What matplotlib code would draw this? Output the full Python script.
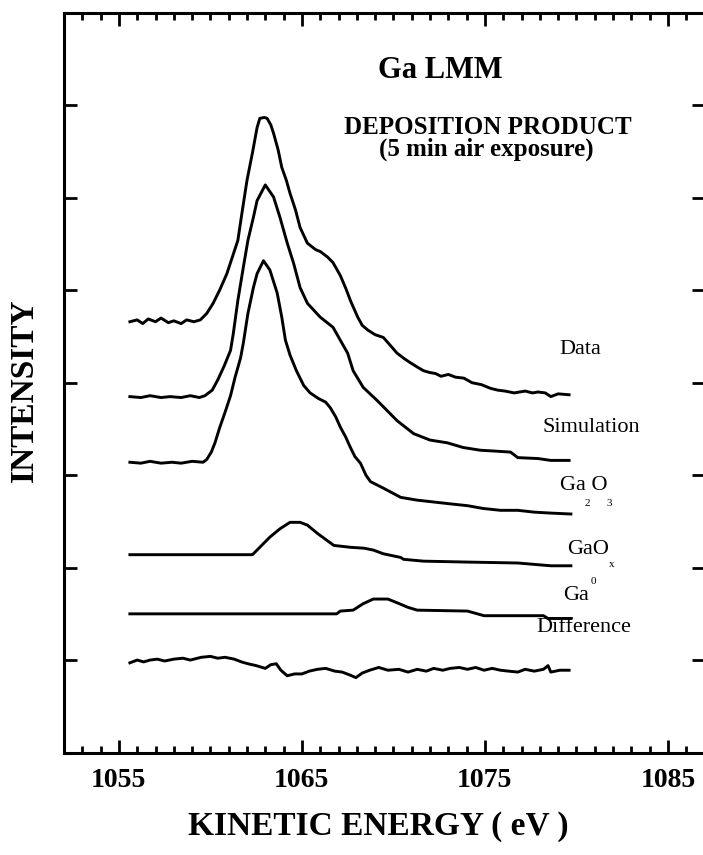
import numpy as np
import matplotlib
matplotlib.use("Agg")
import matplotlib.pyplot as plt
from matplotlib.ticker import MultipleLocator

plt.rcParams['font.family'] = ['Liberation Serif', 'DejaVu Serif']

# spectra: (kinetic energy eV, offset intensity)
data_pts = [(1055.6, 4.66), (1056.0, 4.68), (1056.3, 4.64), (1056.6, 4.69), (1057.0, 4.66),
            (1057.3, 4.70), (1057.7, 4.65), (1058.0, 4.67), (1058.4, 4.64), (1058.7, 4.68),
            (1059.1, 4.66), (1059.45, 4.68), (1059.8, 4.75), (1060.15, 4.86), (1060.5, 5.00),
            (1060.9, 5.18), (1061.2, 5.36), (1061.5, 5.54), (1061.75, 5.87), (1062.0, 6.19),
            (1062.3, 6.49), (1062.55, 6.76), (1062.7, 6.86), (1062.95, 6.87), (1063.1, 6.86),
            (1063.3, 6.79), (1063.45, 6.70), (1063.7, 6.52), (1063.9, 6.33), (1064.15, 6.19),
            (1064.35, 6.05), (1064.65, 5.87), (1064.9, 5.68), (1065.3, 5.51), (1065.75, 5.44),
            (1066.0, 5.42), (1066.4, 5.36), (1066.7, 5.30), (1067.1, 5.16), (1067.4, 5.02),
            (1067.65, 4.89), (1068.05, 4.71), (1068.3, 4.62), (1068.6, 4.57), (1069.0, 4.52),
            (1069.45, 4.49), (1069.85, 4.40), (1070.2, 4.32), (1070.6, 4.26), (1070.9, 4.22),
            (1071.3, 4.17), (1071.65, 4.13), (1072.0, 4.11), (1072.3, 4.10), (1072.6, 4.07),
            (1073.0, 4.09), (1073.4, 4.06), (1073.85, 4.05), (1074.3, 4.00), (1074.8, 3.98),
            (1075.3, 3.94), (1075.7, 3.92), (1076.1, 3.91), (1076.6, 3.89), (1077.2, 3.91),
            (1077.6, 3.89), (1077.9, 3.90), (1078.3, 3.89), (1078.6, 3.85), (1079.0, 3.88),
            (1079.6, 3.87)]

sim_pts = [(1055.6, 3.85), (1056.2, 3.84), (1056.7, 3.86), (1057.3, 3.84), (1057.8, 3.85),
           (1058.4, 3.84), (1058.9, 3.86), (1059.4, 3.84), (1059.7, 3.86), (1060.1, 3.92),
           (1060.4, 4.03), (1060.75, 4.18), (1061.1, 4.35), (1061.25, 4.53), (1061.5, 4.89),
           (1061.8, 5.25), (1062.05, 5.54), (1062.35, 5.79), (1062.55, 5.97), (1063.0, 6.14),
           (1063.45, 6.01), (1063.8, 5.79), (1064.2, 5.51), (1064.55, 5.29), (1064.9, 5.03),
           (1065.3, 4.86), (1066.0, 4.71), (1066.7, 4.60), (1067.1, 4.46), (1067.5, 4.32),
           (1067.8, 4.13), (1068.35, 3.95), (1069.1, 3.81), (1070.2, 3.59), (1071.1, 3.45),
           (1072.0, 3.38), (1072.95, 3.35), (1073.8, 3.30), (1074.75, 3.27), (1075.6, 3.26),
           (1076.4, 3.25), (1076.8, 3.19), (1077.9, 3.18), (1078.6, 3.16), (1079.6, 3.16)]

ga2o3_pts = [(1055.6, 3.14), (1056.2, 3.13), (1056.7, 3.15), (1057.3, 3.13), (1057.9, 3.14),
             (1058.4, 3.13), (1059.0, 3.15), (1059.6, 3.14), (1059.8, 3.17), (1060.05, 3.25),
             (1060.25, 3.35), (1060.5, 3.51), (1060.8, 3.68), (1061.1, 3.86), (1061.35, 4.06),
             (1061.65, 4.27), (1061.8, 4.43), (1062.05, 4.75), (1062.35, 5.03), (1062.55, 5.18),
             (1062.9, 5.32), (1063.25, 5.22), (1063.65, 4.97), (1063.9, 4.71), (1064.1, 4.46),
             (1064.35, 4.30), (1064.7, 4.13), (1065.1, 3.97), (1065.45, 3.89), (1065.9, 3.83),
             (1066.3, 3.79), (1066.55, 3.73), (1066.85, 3.63), (1067.1, 3.52), (1067.4, 3.41),
             (1067.65, 3.30), (1067.9, 3.20), (1068.2, 3.13), (1068.5, 3.00), (1068.75, 2.93),
             (1069.45, 2.86), (1070.4, 2.76), (1071.3, 2.73), (1072.2, 2.71), (1073.1, 2.69),
             (1074.05, 2.67), (1074.9, 2.64), (1075.85, 2.62), (1076.8, 2.62), (1077.7, 2.60),
             (1078.6, 2.59), (1079.7, 2.58)]

gaox_pts = [(1055.6, 2.14), (1058.0, 2.14), (1060.0, 2.14), (1061.6, 2.14), (1062.3, 2.14),
            (1062.7, 2.22), (1063.25, 2.33), (1063.8, 2.42), (1064.35, 2.49), (1064.9, 2.49),
            (1065.3, 2.46), (1065.85, 2.37), (1066.4, 2.29), (1066.75, 2.24), (1067.65, 2.22),
            (1068.4, 2.21), (1068.9, 2.19), (1069.45, 2.15), (1070.4, 2.11), (1070.55, 2.09),
            (1071.65, 2.07), (1074.05, 2.06), (1076.8, 2.05), (1078.6, 2.02), (1079.7, 2.02)]

ga0_pts = [(1055.6, 1.50), (1060.0, 1.50), (1066.0, 1.50), (1066.9, 1.50), (1067.1, 1.53),
           (1067.8, 1.54), (1068.35, 1.61), (1068.9, 1.66), (1069.7, 1.66), (1070.2, 1.62),
           (1070.8, 1.57), (1071.3, 1.54), (1074.05, 1.53), (1074.95, 1.48), (1078.2, 1.48),
           (1078.45, 1.45), (1079.7, 1.45)]

diff_pts = [(1055.6, 0.97), (1056.0, 1.00), (1056.35, 0.98), (1056.7, 1.00), (1057.1, 1.01),
            (1057.5, 0.99), (1058.0, 1.01), (1058.5, 1.02), (1058.9, 1.00), (1059.5, 1.03),
            (1060.0, 1.04), (1060.4, 1.02), (1060.8, 1.03), (1061.3, 1.01), (1061.7, 0.98),
            (1062.05, 0.96), (1062.5, 0.94), (1063.0, 0.91), (1063.3, 0.95), (1063.6, 0.96),
            (1063.85, 0.89), (1064.2, 0.83), (1064.6, 0.85), (1065.0, 0.85), (1065.4, 0.88),
            (1065.85, 0.90), (1066.3, 0.91), (1066.8, 0.88), (1067.2, 0.87), (1067.6, 0.84),
            (1067.95, 0.81), (1068.3, 0.86), (1068.7, 0.89), (1069.2, 0.92), (1069.7, 0.89),
            (1070.3, 0.90), (1070.8, 0.87), (1071.3, 0.90), (1071.8, 0.88), (1072.2, 0.91),
            (1072.7, 0.89), (1073.1, 0.91), (1073.6, 0.92), (1074.05, 0.90), (1074.5, 0.92),
            (1074.95, 0.89), (1075.4, 0.91), (1075.85, 0.89), (1076.3, 0.88), (1076.8, 0.87),
            (1077.2, 0.90), (1077.7, 0.88), (1078.2, 0.90), (1078.45, 0.94), (1078.6, 0.87),
            (1079.1, 0.89), (1079.6, 0.89)]

x_ticks = [1055, 1065, 1075, 1085]

W, H = 703, 855
fig = plt.figure(figsize=(W / 100, H / 100), dpi=100)
ax = fig.add_axes([64 / W, 1 - 752.5 / H, 640.5 / W, 739.5 / H])

for pts in [data_pts, sim_pts, ga2o3_pts, gaox_pts, ga0_pts, diff_pts]:
    e, i = np.array(pts).T
    ax.plot(e, i, color='black', lw=2.1)

ax.set_xlim(1052, 1087)
ax.set_ylim(0, 8)
ax.set_xticks(x_ticks)
ax.xaxis.set_minor_locator(MultipleLocator(1))
ax.set_yticks(range(1, 8))
ax.set_yticklabels([])
ax.tick_params(which='both', direction='in', top=True, right=True, width=2)
ax.tick_params(which='major', length=9.5)
ax.tick_params(which='minor', length=5)
ax.tick_params(axis='x', pad=11, labelsize=20)
for lab in ax.get_xticklabels():
    lab.set_fontweight('bold')
for sp in ax.spines.values():
    sp.set_linewidth(2.2)


def px(x, y):
    return x / W, 1 - y / H


fig.text(*px(378, 826), 'KINETIC ENERGY ( eV )', ha='center', va='center',
         fontsize=24, fontweight='bold')
fig.text(*px(24, 390), 'INTENSITY', ha='center', va='center', rotation=90,
         fontsize=24, fontweight='bold')

fig.text(*px(440, 71), 'Ga LMM', ha='center', va='center', fontsize=22, fontweight='bold')
fig.text(*px(488, 127), 'DEPOSITION PRODUCT', ha='center', va='center',
         fontsize=18, fontweight='bold')
fig.text(*px(486, 149), '(5 min air exposure)', ha='center', va='center',
         fontsize=18, fontweight='bold')

fig.text(*px(580, 350), 'Data', ha='center', va='center', fontsize=16)
fig.text(*px(591, 427), 'Simulation', ha='center', va='center', fontsize=16)
fig.text(*px(560, 485), 'Ga O', ha='left', va='center', fontsize=16)
fig.text(*px(587, 503), '2', ha='center', va='center', fontsize=8)
fig.text(*px(609, 503), '3', ha='center', va='center', fontsize=8)
fig.text(*px(567, 550), 'GaO', ha='left', va='center', fontsize=16)
fig.text(*px(612, 564), 'x', ha='center', va='center', fontsize=8)
fig.text(*px(563, 595), 'Ga', ha='left', va='center', fontsize=16)
fig.text(*px(593, 581), '0', ha='center', va='center', fontsize=8)
fig.text(*px(584, 627), 'Difference', ha='center', va='center', fontsize=16)

fig.savefig('out.png', dpi=100)
